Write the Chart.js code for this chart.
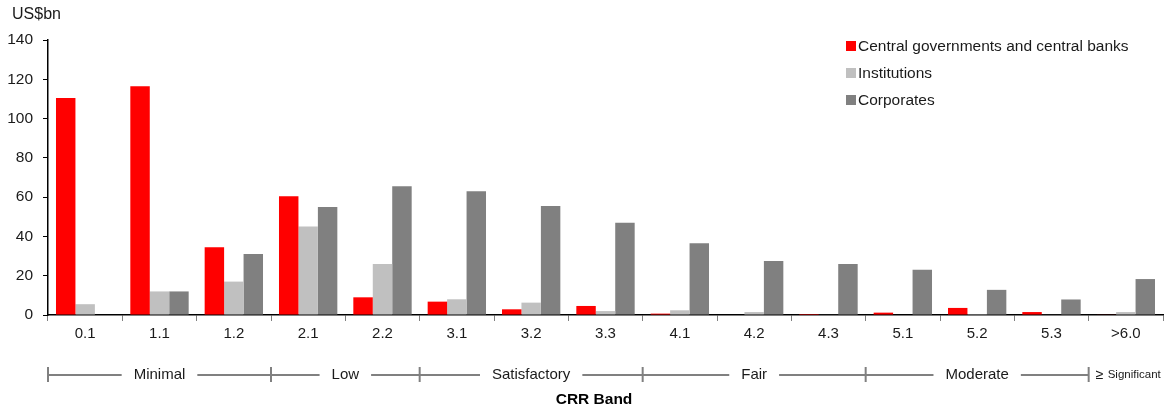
<!DOCTYPE html>
<html>
<head>
<meta charset="utf-8">
<script src="https://cdn.jsdelivr.net/npm/chart.js@4.4.1/dist/chart.umd.min.js"></script>
<style>
  html, body { margin: 0; padding: 0; background: #fff; }
  #wrap { width: 1169px; height: 412px; position: relative; }
</style>
</head>
<body>
<div id="wrap"><canvas id="chart"></canvas></div>
<script>
// CRR bands and exposures (US$bn)
const bands = ['0.1', '1.1', '1.2', '2.1', '2.2', '3.1', '3.2', '3.3', '4.1', '4.2', '4.3', '5.1', '5.2', '5.3', '>6.0'];
const govValues = [110.5, 116.5, 34.5, 60.5, 9, 6.8, 2.9, 4.6, 0.7, 0, 0.5, 1.2, 3.6, 1.5, 0.3];
const instValues = [5.5, 12, 17, 45, 26, 8, 6.3, 2, 2.4, 1.5, 0.3, 0, 0.5, 0.3, 1.5];
const corpValues = [0, 12, 31, 55, 65.5, 63, 55.5, 47, 36.5, 27.5, 26, 23, 12.8, 7.9, 18.3];
const yTicks = [0, 20, 40, 60, 80, 100, 120, 140];

// grading groups below the axis
const groupNames = ['Minimal', 'Low', 'Satisfactory', 'Fair', 'Moderate', 'Significant'];
const groupSpans = [3, 2, 3, 3, 3, 1];

const FONT = '"Liberation Sans", Arial, sans-serif';
const TEXT = '#1a1a1a';
const LINE_GREY = '#808080';

const decor = {
  id: 'decor',
  afterDraw(chart) {
    const ctx = chart.ctx;
    const x = chart.scales.x;
    const step = x.getPixelForValue(1) - x.getPixelForValue(0);
    ctx.save();

    // unit label
    ctx.fillStyle = TEXT;
    ctx.font = '16px ' + FONT;
    ctx.textAlign = 'left';
    ctx.textBaseline = 'middle';
    ctx.fillText('US$bn', 12, 15);

    // legend
    const rows = [46, 73, 100];
    chart.data.datasets.forEach((ds, i) => {
      ctx.fillStyle = ds.backgroundColor;
      ctx.fillRect(846, rows[i] - 5, 10, 10);
      ctx.fillStyle = TEXT;
      ctx.font = '15.5px ' + FONT;
      ctx.fillText(ds.label, 858, rows[i] + 1);
    });

    // group row
    const yRow = 375;
    ctx.strokeStyle = LINE_GREY;
    ctx.lineWidth = 2;
    let idx = 0;
    groupNames.forEach((name, g) => {
      const left = x.getPixelForValue(idx) - step / 2;
      idx += groupSpans[g];
      const right = x.getPixelForValue(idx - 1) + step / 2;
      ctx.beginPath();
      ctx.moveTo(left, yRow - 8);
      ctx.lineTo(left, yRow + 7);
      ctx.stroke();
      ctx.fillStyle = TEXT;
      if (name === 'Significant') {
        ctx.textAlign = 'left';
        ctx.font = '14px ' + FONT;
        ctx.fillText('\u2265', left + 7, yRow);
        ctx.font = '11.5px ' + FONT;
        ctx.fillText(name, left + 19, yRow);
        return;
      }
      ctx.font = '15px ' + FONT;
      const w = ctx.measureText(name).width;
      const mid = (left + right) / 2;
      const gap = 12;
      ctx.beginPath();
      ctx.moveTo(left, yRow);
      ctx.lineTo(mid - w / 2 - gap, yRow);
      ctx.moveTo(mid + w / 2 + gap, yRow);
      ctx.lineTo(right, yRow);
      ctx.stroke();
      ctx.textAlign = 'center';
      ctx.fillText(name, mid, yRow);
    });

    // axis title
    ctx.fillStyle = '#000';
    ctx.font = 'bold 15.5px ' + FONT;
    ctx.textAlign = 'center';
    ctx.fillText('CRR Band', 594, 400);
    ctx.restore();
  }
};

new Chart(document.getElementById('chart'), {
  type: 'bar',
  data: {
    labels: bands,
    datasets: [
      { label: 'Central governments and central banks', data: govValues, backgroundColor: '#ff0000' },
      { label: 'Institutions', data: instValues, backgroundColor: '#c0c0c0' },
      { label: 'Corporates', data: corpValues, backgroundColor: '#808080' }
    ]
  },
  options: {
    responsive: true,
    maintainAspectRatio: false,
    animation: false,
    layout: { padding: { top: 40, right: 6, left: 0, bottom: 0 } },
    datasets: { bar: { barPercentage: 1, categoryPercentage: 0.785 } },
    plugins: {
      legend: { display: false },
      tooltip: { enabled: false }
    },
    scales: {
      x: {
        afterFit(scale) { scale.height = 97; },
        border: { color: '#000', width: 1.5 },
        grid: { offset: true, drawOnChartArea: false, drawTicks: true, tickLength: 6, color: LINE_GREY, lineWidth: 1 },
        ticks: { color: TEXT, font: { family: FONT, size: 15 }, padding: 4, maxRotation: 0 }
      },
      y: {
        min: 0,
        max: 140,
        afterFit(scale) { scale.width = 48; },
        afterBuildTicks(scale) { scale.ticks = yTicks.map(v => ({ value: v })); },
        border: { color: '#000', width: 1.5 },
        grid: { drawOnChartArea: false, drawTicks: true, tickLength: 5, color: '#000' },
        ticks: { color: TEXT, font: { family: FONT, size: 15.5 }, padding: 10 }
      }
    }
  },
  plugins: [decor]
});
</script>
</body>
</html>
